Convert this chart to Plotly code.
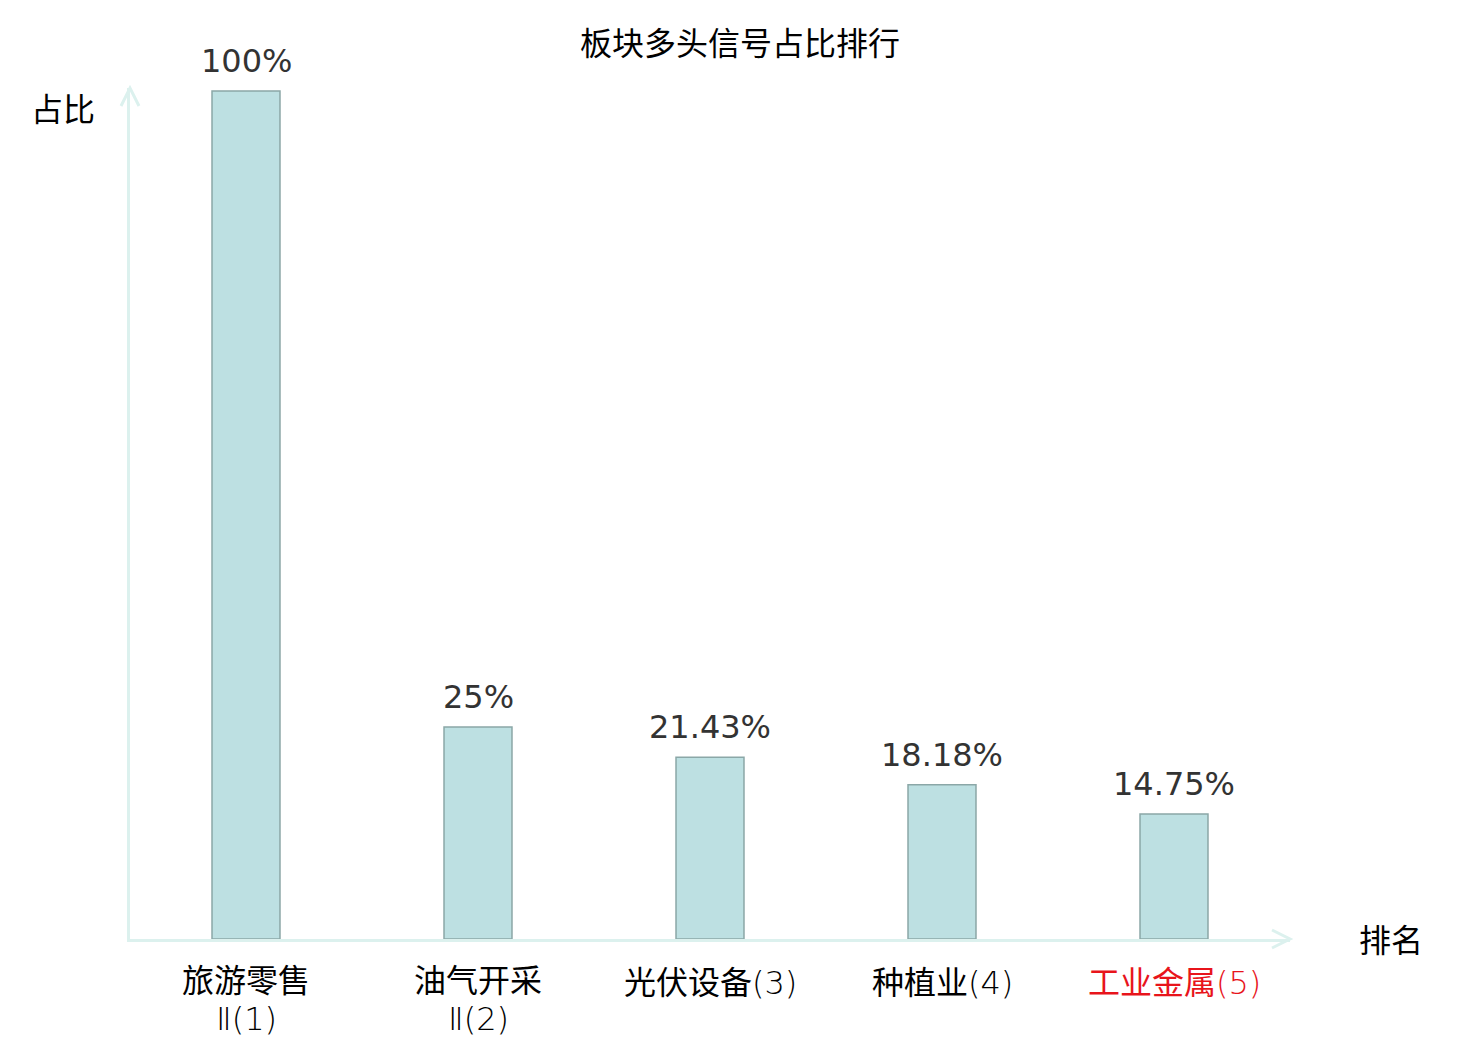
import plotly.graph_objects as go

names = ["旅游零售", "油气开采", "光伏设备", "种植业", "工业金属"]
suffixes = ["Ⅱ", "Ⅱ", "", "", ""]
ranks = [1, 2, 3, 4, 5]
values = [100, 25, 21.43, 18.18, 14.75]
value_labels = ["100%", "25%", "21.43%", "18.18%", "14.75%"]
highlight = [False, False, False, False, True]

FONT = "DejaVu Sans, Noto Sans CJK SC, sans-serif"
AXIS_COLOR = "#dcf1ee"
FS = 32

x = list(range(len(names)))

fig = go.Figure()
fig.add_trace(go.Bar(
    x=x, y=values, width=0.293,
    marker=dict(color="#bde0e2", line=dict(color="#8ba7a7", width=1.5)),
    hoverinfo="skip",
))

for xi, v, lab in zip(x, values, value_labels):
    fig.add_annotation(x=xi, y=v, text=lab, showarrow=False, yanchor="bottom",
                       yshift=9, font=dict(size=FS, color="#333333", family=FONT))

# category labels
for xi, n, s, r, h in zip(x, names, suffixes, ranks, highlight):
    color = "#e8141b" if h else "black"
    light = f'<span style="font-weight:200">{s}({r})</span>'
    common = dict(x=xi, y=0, yref="paper", showarrow=False, xanchor="center",
                  yanchor="middle", font=dict(size=FS, color=color, family=FONT))
    if s:
        fig.add_annotation(text=n, yshift=-42, **common)
        fig.add_annotation(text=light, yshift=-80, **common)
    else:
        fig.add_annotation(text=n + light, yshift=-44, **common)

fig.add_annotation(xref="paper", yref="paper", x=0, y=1, xshift=-67, yshift=-22,
                   xanchor="center", yanchor="middle",
                   text="占比", showarrow=False, font=dict(size=FS, color="black", family=FONT))
fig.add_annotation(xref="paper", yref="paper", x=1, y=0, xshift=101, yshift=-2,
                   xanchor="center", yanchor="middle",
                   text="排名", showarrow=False, font=dict(size=FS, color="black", family=FONT))

# arrow heads
fig.add_shape(type="path", xref="paper", yref="paper", xsizemode="pixel", ysizemode="pixel",
              xanchor=1, yanchor=0, path="M -18,9 L 0,0 L -18,-9",
              line=dict(color=AXIS_COLOR, width=3))
fig.add_shape(type="path", xref="paper", yref="paper", xsizemode="pixel", ysizemode="pixel",
              xanchor=0, yanchor=1, path="M -9,-18 L 0,0 L 9,-18",
              line=dict(color=AXIS_COLOR, width=3))

fig.update_layout(
    width=1480, height=1040,
    margin=dict(l=122, r=198, t=80, b=109),
    paper_bgcolor="white", plot_bgcolor="white",
    showlegend=False,
    title=dict(text="板块多头信号占比排行", x=732 / 1480, xanchor="center", y=1 - 36 / 1040,
               yanchor="middle", font=dict(size=FS, color="black", family=FONT)),
    font=dict(family=FONT),
    xaxis=dict(range=[-0.5, 4.5], showticklabels=False,
               showline=True, linecolor=AXIS_COLOR, linewidth=3, showgrid=False,
               zeroline=False, ticks=""),
    yaxis=dict(range=[0, 100 * (939 - 88) / 848], showline=True, linecolor=AXIS_COLOR,
               linewidth=3, showgrid=False, zeroline=False, showticklabels=False, ticks=""),
)

fig.write_html("out.html")
